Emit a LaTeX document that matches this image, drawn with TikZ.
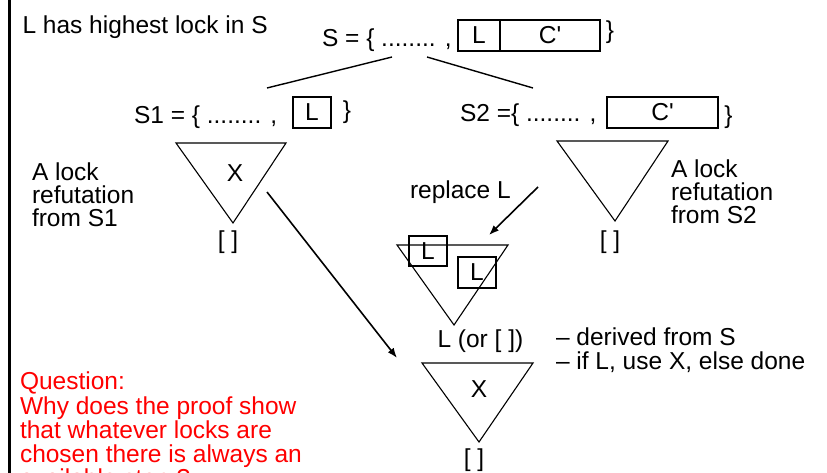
\documentclass[tikz,border=0pt]{standalone}
\usepackage{fontspec}
\setmainfont{Liberation Sans}
\newfontfamily\plainsans{Liberation Sans}
\usetikzlibrary{arrows.meta}
\definecolor{qred}{RGB}{255,0,0}
\begin{document}
\begin{tikzpicture}[x=1pt,y=-1pt,
  every node/.style={inner sep=0pt, outer sep=0pt, font=\plainsans\fontsize{24.5}{23}\selectfont},
  txt/.style={anchor=base west},
  lit/.style={draw, line width=1.1pt, minimum height=31pt},
  tri/.style={draw, line width=1.1pt},
  edgeline/.style={line width=1.4pt},
  arr/.style={line width=1.6pt, -{Latex[length=10pt,width=7.5pt]}},
]
\useasboundingbox (0,0) rectangle (827,473);
\draw[line width=2.5pt] (9.5,0) -- (9.5,473);

\node[txt] (title) at (22.5,33.3) {L has highest lock in S};

% S
\node[txt] (Stxt) at (322,47) {S = \{ ........ ,};
\node[lit, minimum width=42pt] (SL) at (479,35.5) {L};
\node[lit, minimum width=100pt] (SC) at (550,35.5) {C'};
\node (Sbr) at (610,32.5) {\}};

% S1
\node[txt] (S1txt) at (134,123.3) {S1 = \{ ........ ,};
\node[lit, minimum width=38pt] (S1L) at (312,112.5) {L};
\node (S1br) at (347,112.5) {\}};

% S2
\node[txt] (S2txt) at (460,122) {S2 =\{ ........ ,};
\node[lit, minimum width=111pt] (S2C) at (662.5,112.5) {C'};
\node (S2br) at (728.5,116.7) {\}};

% split lines
\coordinate (sa) at (392,57);
\coordinate (sb) at (267,88);
\coordinate (sc) at (427,57);
\coordinate (sd) at (533,88);
\draw[edgeline] (sa) -- (sb);
\draw[edgeline] (sc) -- (sd);

% triangle 1
\coordinate (t1a) at (176,143);
\coordinate (t1b) at (286,143);
\coordinate (t1c) at (233,223);
\draw[tri] (t1a) -- (t1b) -- (t1c) -- cycle;
\node (X1) at (235,173) {X};
\node (E1) at (228,242.5) {[ ]};
\node[align=left, anchor=west] (lab1) at (32,194.5) {A lock\\refutation\\from S1};

% triangle 2
\coordinate (t2a) at (557,141);
\coordinate (t2b) at (668,141);
\coordinate (t2c) at (615,221);
\draw[tri] (t2a) -- (t2b) -- (t2c) -- cycle;
\node (E2) at (610,242) {[ ]};
\node[align=left, anchor=west] (lab2) at (671,191.5) {A lock\\refutation\\from S2};

% replace L
\node[txt] (repl) at (410,199) {replace L};
\coordinate (ra) at (538,187);
\coordinate (rb) at (489,235);
\draw[arr] (ra) -- (rb);

% triangle 3
\coordinate (t3a) at (397,245);
\coordinate (t3b) at (508,245);
\coordinate (t3c) at (454,325);
\draw[tri] (t3a) -- (t3b) -- (t3c) -- cycle;
\node[lit, minimum width=38pt, minimum height=30pt] (L1) at (428,251) {L};
\node[lit, minimum width=38pt, minimum height=31pt] (L2) at (477,272.5) {L};

\node[txt] (Lor) at (437.5,347) {L (or [ ])};
\node[txt] (d1) at (556,345.7) {– derived from S};
\node[txt] (d2) at (556,369.3) {– if L, use X, else done};

% triangle 4
\coordinate (t4a) at (422,363);
\coordinate (t4b) at (533,363);
\coordinate (t4c) at (479,442);
\draw[tri] (t4a) -- (t4b) -- (t4c) -- cycle;
\node (X2) at (479,389) {X};
\node (E4) at (474,460) {[ ]};

% long arrow
\coordinate (la) at (267,192);
\coordinate (lb) at (397,358);
\draw[arr] (la) -- (lb);

% question
\node[align=left, anchor=north west, text=qred, font=\plainsans\fontsize{24.5}{24.3}\selectfont] (q) at (20,372)
  {Question:\\Why does the proof show\\that whatever locks are\\chosen there is always an\\available step ?};
\end{tikzpicture}
\end{document}
